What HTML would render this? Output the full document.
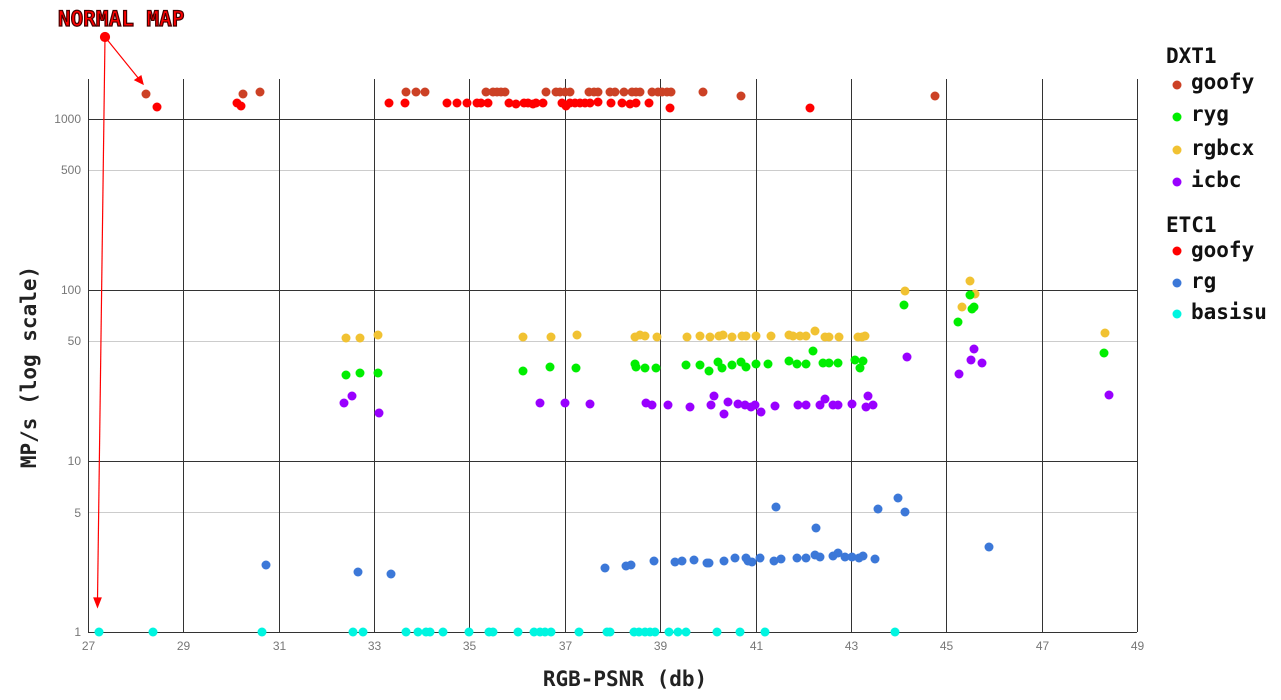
<!DOCTYPE html>
<html><head><meta charset="utf-8"><style>
body{margin:0;background:#fff;}
svg{display:block;font-family:"Liberation Sans",sans-serif;}
.m{font-family:"DejaVu Sans Mono","Liberation Mono",monospace;font-weight:bold;}
</style></head><body>
<svg id="s" width="1281" height="700" xmlns="http://www.w3.org/2000/svg">
<g stroke="#ccc" stroke-width="1">
<line x1="88" x2="1137" y1="170.5" y2="170.5"/><line x1="88" x2="1137" y1="341.5" y2="341.5"/><line x1="88" x2="1137" y1="512.5" y2="512.5"/>
</g>
<g stroke="#333" stroke-width="1" id="grid"></g>
<g font-size="12" fill="#777" text-anchor="end">
<text x="81" y="123">1000</text><text x="81" y="174">500</text><text x="81" y="294">100</text><text x="81" y="345">50</text><text x="81" y="465">10</text><text x="81" y="517">5</text><text x="81" y="636">1</text>
</g>
<g font-size="12" fill="#777" text-anchor="middle" id="xl"></g>
<text class="m" x="625" y="686" font-size="21" text-anchor="middle" fill="#222">RGB-PSNR (db)</text>
<text class="m" transform="translate(36,367) rotate(-90)" font-size="21" text-anchor="middle" fill="#222">MP/s (log scale)</text>
<g id="pts"></g>
<g stroke="#f00" stroke-width="1.2" fill="#f00">
<line x1="105" y1="37" x2="97.5" y2="600"/><polygon points="94,598 101,598 97.5,607"/>
<line x1="105" y1="37" x2="139" y2="79"/><polygon points="135,80 141,76 143,84"/>
<circle cx="105" cy="37" r="4.5"/>
</g>
<text class="m" x="58" y="26" font-size="21" fill="#f00" stroke="#400" stroke-width="1.2">NORMAL MAP</text>
<g class="m" font-size="21" fill="#111">
<text x="1166" y="63">DXT1</text>
<text x="1191" y="89">goofy</text><text x="1191" y="121">ryg</text><text x="1191" y="155">rgbcx</text><text x="1191" y="187">icbc</text>
<text x="1166" y="232">ETC1</text>
<text x="1191" y="257">goofy</text><text x="1191" y="288">rg</text><text x="1191" y="319">basisu</text>
</g>
<g>
<circle cx="1177" cy="85" r="4.5" fill="#cc4125"/><circle cx="1177" cy="117" r="4.5" fill="#00ee00"/><circle cx="1177" cy="150" r="4.5" fill="#f1c232"/><circle cx="1177" cy="182" r="4.5" fill="#9900ff"/>
<circle cx="1177" cy="251" r="4.5" fill="#ff0000"/><circle cx="1177" cy="283" r="4.5" fill="#3c78d8"/><circle cx="1177" cy="314" r="4.5" fill="#00f5e0"/>
</g>
</svg>
<script>
var NS="http://www.w3.org/2000/svg";
function el(p,t,a){var e=document.createElementNS(NS,t);for(var k in a)e.setAttribute(k,a[k]);p.appendChild(e);return e;}
var g=document.getElementById('grid'),xl=document.getElementById('xl');
[1000,100,10].forEach(function(v,i){var y=[119.5,290.5,461.5][i];el(g,'line',{x1:88,x2:1137,y1:y,y2:y});});
el(g,'line',{x1:88,x2:1137,y1:632.5,y2:632.5});
for(var v=27;v<=49;v+=2){var x=Math.round(88+(v-27)*47.68)+0.5;el(g,'line',{x1:x,x2:x,y1:79,y2:632});var t=el(xl,'text',{x:x,y:650});t.textContent=v;}
var P=document.getElementById('pts');
function S(c,arr){arr.forEach(function(p){el(P,'circle',{cx:p[0],cy:p[1],r:4.5,fill:c});});}
S('#cc4125',[[146,94],[243,94],[260,92],[406,92],[416,92],[425,92],[486,92],[493,92],[497,92],[501,92],[505,92],[546,92],[556,92],[560,92],[565,92],[570,92],[589,92],[594,92],[598,92],[610,92],[615,92],[624,92],[632,92],[636,92],[640,92],[652,92],[658,92],[662,92],[667,92],[671,92],[703,92],[741,96],[935,96]]);
S('#ff0000',[[157,107],[237,103],[241,106],[389,103],[405,103],[447,103],[457,103],[467,103],[477,103],[481,103],[488,103],[509,103],[516,104],[524,103],[528,103],[533,104],[536,103],[543,103],[562,103],[566,106],[570,103],[575,103],[580,103],[585,103],[590,103],[598,102],[611,103],[622,103],[630,104],[636,103],[649,103],[670,108],[810,108]]);
S('#f1c232',[[346,338],[360,338],[378,335],[523,337],[551,337],[577,335],[635,337],[640,335],[645,336],[657,337],[687,337],[700,336],[710,337],[719,336],[723,335],[732,337],[742,336],[746,336],[756,336],[771,336],[789,335],[793,336],[800,336],[806,336],[815,331],[825,337],[829,337],[839,337],[858,337],[862,337],[865,336],[905,291],[962,307],[970,281],[975,294],[1105,333]]);
S('#00ee00',[[346,375],[360,373],[378,373],[523,371],[550,367],[576,368],[635,364],[636,367],[645,368],[656,368],[686,365],[700,365],[709,371],[718,362],[722,368],[732,365],[741,362],[746,367],[756,364],[768,364],[789,361],[797,364],[806,364],[813,351],[823,363],[829,363],[838,363],[855,360],[860,368],[863,361],[904,305],[958,322],[970,295],[972,309],[974,307],[1104,353]]);
S('#9900ff',[[344,403],[352,396],[379,413],[540,403],[565,403],[590,404],[646,403],[652,405],[668,405],[690,407],[711,405],[714,396],[724,414],[728,402],[738,404],[745,405],[751,407],[755,405],[761,412],[775,406],[798,405],[806,405],[820,405],[825,399],[833,405],[838,405],[852,404],[866,407],[868,396],[873,405],[907,357],[959,374],[971,360],[974,349],[982,363],[1109,395]]);
S('#3c78d8',[[266,565],[358,572],[391,574],[605,568],[626,566],[631,565],[654,561],[675,562],[682,561],[694,560],[707,563],[709,563],[724,561],[735,558],[746,558],[748,561],[752,562],[760,558],[774,561],[781,559],[797,558],[806,558],[815,555],[820,557],[833,556],[838,553],[845,557],[852,557],[859,558],[863,556],[875,559],[776,507],[816,528],[878,509],[898,498],[905,512],[989,547]]);
S('#00f5e0',[99,153,262,353,363,406,418,426,430,443,469,489,493,518,534,540,545,551,579,607,610,634,639,645,650,655,669,678,686,717,740,765,895].map(function(x){return [x,632];}));
</script>
</body></html>
